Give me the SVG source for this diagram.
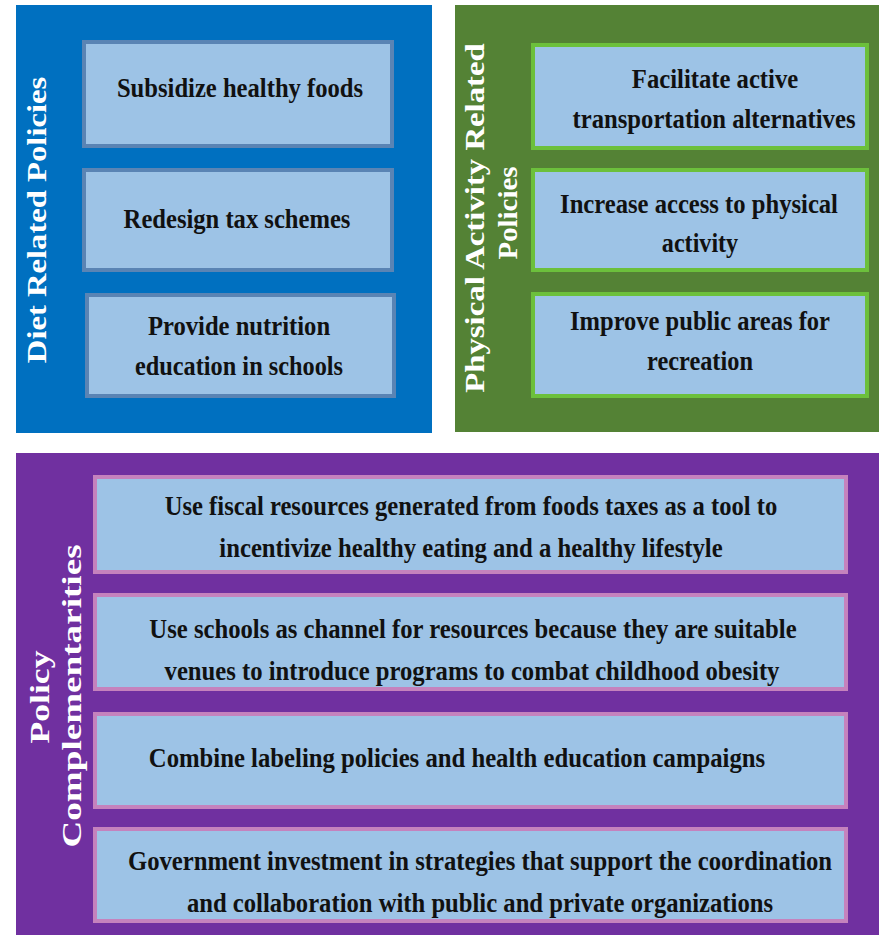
<svg xmlns="http://www.w3.org/2000/svg" width="879" height="935" viewBox="0 0 879 935">
<style>
.t{font-family:"Liberation Serif","Times New Roman",serif;font-weight:bold;font-size:28px;fill:#111;text-anchor:middle}
.h{font-family:"Liberation Serif","Times New Roman",serif;font-weight:bold;font-size:28px;fill:#fff;text-anchor:middle}
.bb{fill:#9dc3e6;stroke:#5a84b4;stroke-width:4}
.gb{fill:#9dc3e6;stroke:#6cc03c;stroke-width:4}
.pb{fill:#9dc3e6;stroke:#c582bd;stroke-width:4}
</style>
<rect width="879" height="935" fill="#fff"/>
<g id="diet">
<rect x="16" y="5" width="416" height="428" fill="#0070c0"/>
<text class="h" transform="translate(46,220) rotate(-90) scale(0.8,1)" textLength="358" lengthAdjust="spacingAndGlyphs">Diet Related Policies</text>
</g>
<g id="diet1"><rect class="bb" x="84" y="42" width="308" height="104"/>
<text class="t" transform="translate(240,97) scale(0.72,1)" textLength="342" lengthAdjust="spacingAndGlyphs">Subsidize healthy foods</text></g>
<g id="diet2"><rect class="bb" x="84" y="170" width="308" height="100"/>
<text class="t" transform="translate(237,228) scale(0.72,1)" textLength="315" lengthAdjust="spacingAndGlyphs">Redesign tax schemes</text></g>
<g id="diet3"><rect class="bb" x="87" y="295" width="307" height="101"/>
<text class="t" transform="translate(239,335) scale(0.72,1)" textLength="253" lengthAdjust="spacingAndGlyphs">Provide nutrition</text>
<text class="t" transform="translate(239,375) scale(0.72,1)" textLength="289" lengthAdjust="spacingAndGlyphs">education in schools</text></g>
<g id="physical">
<rect x="455" y="5" width="424" height="427" fill="#548235"/>
<text class="h" transform="translate(484,218) rotate(-90) scale(0.8,1)" textLength="437" lengthAdjust="spacingAndGlyphs">Physical Activity Related</text>
<text class="h" transform="translate(517,213) rotate(-90) scale(0.8,1)" textLength="116" lengthAdjust="spacingAndGlyphs">Policies</text>
</g>
<g id="pa1"><rect class="gb" x="533" y="45" width="334" height="103"/>
<text class="t" transform="translate(715,88) scale(0.72,1)" textLength="231" lengthAdjust="spacingAndGlyphs">Facilitate active</text>
<text class="t" transform="translate(714,128) scale(0.72,1)" textLength="393" lengthAdjust="spacingAndGlyphs">transportation alternatives</text></g>
<g id="pa2"><rect class="gb" x="533" y="170" width="334" height="100"/>
<text class="t" transform="translate(699,213) scale(0.72,1)" textLength="386" lengthAdjust="spacingAndGlyphs">Increase access to physical</text>
<text class="t" transform="translate(700,252) scale(0.72,1)" textLength="106" lengthAdjust="spacingAndGlyphs">activity</text></g>
<g id="pa3"><rect class="gb" x="533" y="294" width="334" height="102"/>
<text class="t" transform="translate(700,330) scale(0.72,1)" textLength="361" lengthAdjust="spacingAndGlyphs">Improve public areas for</text>
<text class="t" transform="translate(700,370) scale(0.72,1)" textLength="147" lengthAdjust="spacingAndGlyphs">recreation</text></g>
<g id="complement">
<rect x="16" y="453" width="863" height="482" fill="#7030a0"/>
<text class="h" transform="translate(49,697) rotate(-90) scale(0.8,1)" textLength="116" lengthAdjust="spacingAndGlyphs">Policy</text>
<text class="h" transform="translate(81,696) rotate(-90) scale(0.8,1)" textLength="379" lengthAdjust="spacingAndGlyphs">Complementarities</text>
</g>
<g id="pc1"><rect class="pb" x="95" y="477" width="751" height="95"/>
<text class="t" transform="translate(471,515) scale(0.72,1)" textLength="851" lengthAdjust="spacingAndGlyphs">Use fiscal resources generated from foods taxes as a tool to</text>
<text class="t" transform="translate(471,557) scale(0.72,1)" textLength="699" lengthAdjust="spacingAndGlyphs">incentivize healthy eating and a healthy lifestyle</text></g>
<g id="pc2"><rect class="pb" x="95" y="595" width="751" height="94"/>
<text class="t" transform="translate(473,638) scale(0.72,1)" textLength="899" lengthAdjust="spacingAndGlyphs">Use schools as channel for resources because they are suitable</text>
<text class="t" transform="translate(472,680) scale(0.72,1)" textLength="854" lengthAdjust="spacingAndGlyphs">venues to introduce programs to combat childhood obesity</text></g>
<g id="pc3"><rect class="pb" x="95" y="714" width="751" height="93"/>
<text class="t" transform="translate(457,767) scale(0.72,1)" textLength="856" lengthAdjust="spacingAndGlyphs">Combine labeling policies and health education campaigns</text></g>
<g id="pc4"><rect class="pb" x="95" y="829" width="751" height="92"/>
<text class="t" transform="translate(480,870) scale(0.72,1)" textLength="978" lengthAdjust="spacingAndGlyphs">Government investment in strategies that support the coordination</text>
<text class="t" transform="translate(480,912) scale(0.72,1)" textLength="814" lengthAdjust="spacingAndGlyphs">and collaboration with public and private organizations</text></g>
<g id="connectors"></g>
</svg>
